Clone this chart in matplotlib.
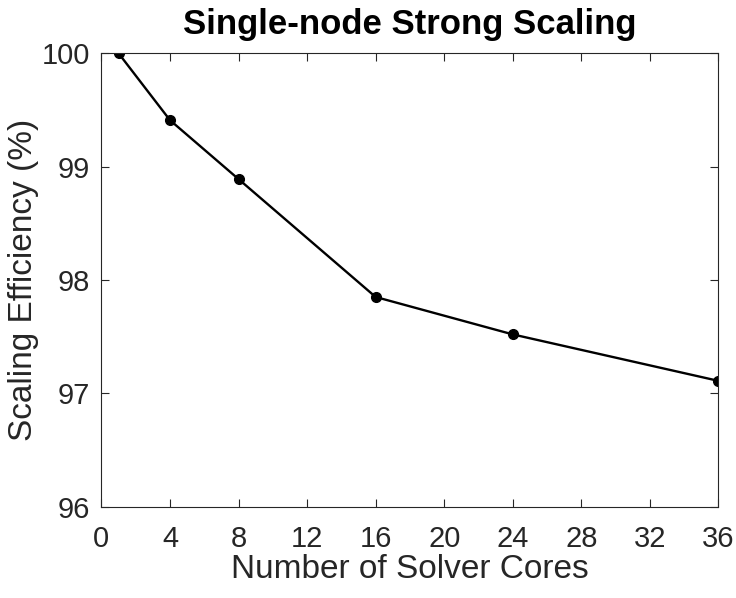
import matplotlib
matplotlib.use('Agg')
import matplotlib.pyplot as plt

cores = [1, 4, 8, 16, 24, 36]
efficiency = [100.0, 99.41, 98.89, 97.85, 97.52, 97.11]
xticks = [0, 4, 8, 12, 16, 20, 24, 28, 32, 36]
yticks = [96, 97, 98, 99, 100]

plt.rcParams['font.family'] = ['Liberation Sans', 'DejaVu Sans']

fig = plt.figure(figsize=(7.36, 5.98), dpi=100)
ax = fig.add_axes([0.1378, 0.1527, 0.8383, 0.7582])

ax.plot(cores, efficiency, 'k-', marker='o', markersize=7, linewidth=1.7)

ax.set_xlim(0, 36)
ax.set_ylim(96, 100)
ax.set_xticks(xticks)
ax.set_yticks(yticks)
ax.tick_params(direction='in', top=True, right=True, length=6, width=0.8,
               labelsize=21, colors='#262626', pad=8)
ax.tick_params(axis='x', pad=13)
for s in ax.spines.values():
    s.set_color('#262626')
    s.set_linewidth(0.8)

ax.set_xlabel('Number of Solver Cores', fontsize=24, color='#262626', labelpad=1)
ax.set_ylabel('Scaling Efficiency (%)', fontsize=24, color='#262626', labelpad=2)
ax.set_title('Single-node Strong Scaling', fontsize=25, fontweight='bold', pad=14)

fig.savefig('out.png', dpi=100)
